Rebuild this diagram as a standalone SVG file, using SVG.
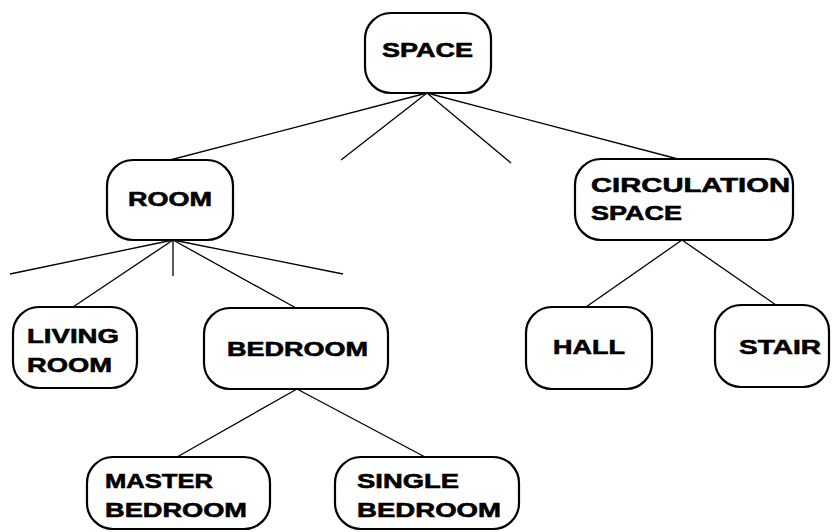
<svg xmlns="http://www.w3.org/2000/svg" width="832" height="532" viewBox="0 0 832 532">
<style>
.box{fill:#fff;stroke:#000;stroke-width:2.2}
.ln{stroke:#000;stroke-width:1.3;fill:none}
text{font-family:"Liberation Sans",Arial,sans-serif;font-weight:bold;font-size:21px;fill:#000;stroke:#000;stroke-width:0.6}
</style>
<rect width="832" height="532" fill="#fff"/>
<g id="connectors">
<line class="ln" x1="427" y1="93" x2="170" y2="160"/>
<line class="ln" x1="427" y1="93" x2="341" y2="160"/>
<line class="ln" x1="427" y1="93" x2="511" y2="163"/>
<line class="ln" x1="427" y1="93" x2="678" y2="159"/>
<line class="ln" x1="173" y1="240" x2="10" y2="274"/>
<line class="ln" x1="173" y1="240" x2="73" y2="307"/>
<line class="ln" x1="173" y1="240" x2="173" y2="276"/>
<line class="ln" x1="173" y1="240" x2="296" y2="308"/>
<line class="ln" x1="173" y1="240" x2="343" y2="274"/>
<line class="ln" x1="297" y1="389" x2="177" y2="457"/>
<line class="ln" x1="297" y1="389" x2="425" y2="457"/>
<line class="ln" x1="682" y1="240" x2="586" y2="307"/>
<line class="ln" x1="682" y1="240" x2="776" y2="305"/>
</g>
<g id="space">
<rect class="box" x="365" y="13" width="126" height="80" rx="26"/>
<text x="382" y="57" textLength="91" lengthAdjust="spacingAndGlyphs">SPACE</text>
</g>
<g id="room">
<rect class="box" x="107" y="160" width="126" height="80" rx="26"/>
<text x="128" y="206" textLength="84" lengthAdjust="spacingAndGlyphs">ROOM</text>
</g>
<g id="circulation-space">
<rect class="box" x="575" y="159" width="218" height="81" rx="26"/>
<text x="591" y="192" textLength="199" lengthAdjust="spacingAndGlyphs">CIRCULATION</text>
<text x="591" y="220" textLength="91" lengthAdjust="spacingAndGlyphs">SPACE</text>
</g>
<g id="living-room">
<rect class="box" x="13" y="307" width="124" height="81" rx="26"/>
<text x="27" y="343" textLength="92" lengthAdjust="spacingAndGlyphs">LIVING</text>
<text x="27" y="372" textLength="85" lengthAdjust="spacingAndGlyphs">ROOM</text>
</g>
<g id="bedroom">
<rect class="box" x="204" y="308" width="184" height="81" rx="26"/>
<text x="227" y="356" textLength="141" lengthAdjust="spacingAndGlyphs">BEDROOM</text>
</g>
<g id="hall">
<rect class="box" x="526" y="307" width="126" height="82" rx="26"/>
<text x="553" y="354" textLength="72" lengthAdjust="spacingAndGlyphs">HALL</text>
</g>
<g id="stair">
<rect class="box" x="715" y="305" width="114" height="82" rx="26"/>
<text x="739" y="354" textLength="82" lengthAdjust="spacingAndGlyphs">STAIR</text>
</g>
<g id="master-bedroom">
<rect class="box" x="87" y="457" width="183" height="72" rx="26"/>
<text x="105" y="488" textLength="108" lengthAdjust="spacingAndGlyphs">MASTER</text>
<text x="105" y="517" textLength="142" lengthAdjust="spacingAndGlyphs">BEDROOM</text>
</g>
<g id="single-bedroom">
<rect class="box" x="335" y="457" width="184" height="72" rx="26"/>
<text x="357" y="488" textLength="102" lengthAdjust="spacingAndGlyphs">SINGLE</text>
<text x="357" y="517" textLength="144" lengthAdjust="spacingAndGlyphs">BEDROOM</text>
</g>
</svg>
